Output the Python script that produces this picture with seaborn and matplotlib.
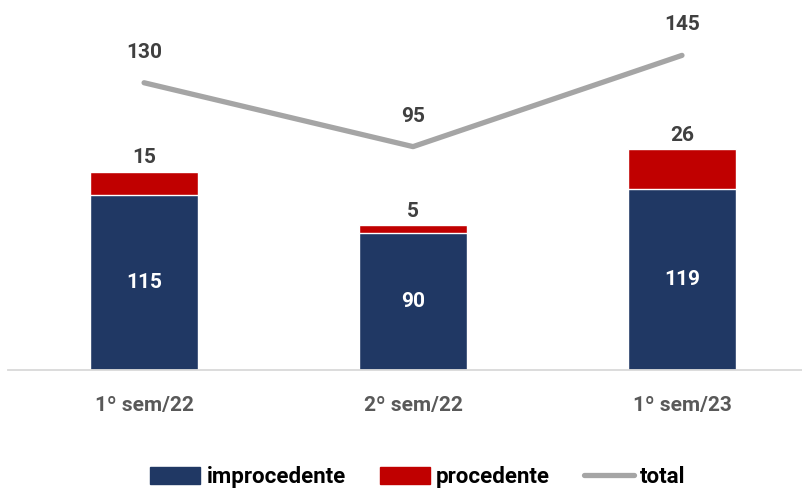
import numpy as np
import matplotlib
matplotlib.use("Agg")
import matplotlib.pyplot as plt
import seaborn as sns
from matplotlib.patches import Patch
from matplotlib.lines import Line2D

periods = ["1º sem/22", "2º sem/22", "1º sem/23"]
improcedente = [115, 90, 119]
procedente = [15, 5, 26]
total = [130, 95, 145]

navy = "#203864"
red = "#c00000"
grey = "#a5a5a5"

sns.set_style("white")
plt.rcParams["font.family"] = ["Roboto", "DejaVu Sans"]
plt.rcParams["font.weight"] = "bold"

fig = plt.figure(figsize=(8.03, 4.91), dpi=100)
ax = fig.add_axes([8 / 803, 1 - 370 / 491, 795 / 803, 350 / 491])

# stacked bars: full height in red, improcedente drawn over it
stack_top = [a + b for a, b in zip(improcedente, procedente)]
sns.barplot(x=periods, y=stack_top, color=red, width=0.4, saturation=1, ax=ax)
sns.barplot(x=periods, y=improcedente, color=navy, width=0.4, saturation=1, ax=ax)

ax.set_ylim(0, 350 / 1.524)
ax.set_xlim(-0.506, 2.45)
ax.set_yticks([])
ax.set_ylabel("")
for s in ["top", "left", "right"]:
    ax.spines[s].set_visible(False)
ax.spines["bottom"].set_color("#d9d9d9")
ax.spines["bottom"].set_linewidth(1.3)
ax.tick_params(axis="x", length=0, pad=19, labelsize=15, labelcolor="#595959")
for lbl in ax.get_xticklabels():
    lbl.set_fontweight("bold")

for i in range(len(periods)):
    ax.text(i, improcedente[i] / 2, str(improcedente[i]), ha="center", va="center",
            color="white", fontsize=15, fontweight="bold")
    ax.annotate(str(procedente[i]), (i, stack_top[i]), xytext=(0, 10),
                textcoords="offset points", ha="center", va="center",
                color="#404040", fontsize=15, fontweight="bold")

# total line on its own scale
ax2 = ax.twinx()
sns.lineplot(x=list(range(len(periods))), y=total, color=grey, linewidth=3.8,
             solid_capstyle="round", ax=ax2)
ax2.set_ylim(-50 / 1.825, 300 / 1.825)
ax2.set_xlim(ax.get_xlim())
ax2.axis("off")
for i, v in enumerate(total):
    ax2.annotate(str(v), (i, v), xytext=(0, 22), textcoords="offset points",
                 ha="center", va="center", color="#404040", fontsize=15,
                 fontweight="bold")

handles = [Patch(color=navy), Patch(color=red),
           Line2D([0], [0], color=grey, linewidth=3.8, solid_capstyle="round")]
leg = fig.legend(handles, ["improcedente", "procedente", "total"], loc="center",
                 bbox_to_anchor=(418 / 803, 1 - 477 / 491), ncol=3, frameon=False,
                 fontsize=16, handlelength=2.25, handleheight=0.8, handletextpad=0.3,
                 columnspacing=1.5, borderpad=0.1)
for t in leg.get_texts():
    t.set_fontweight("bold")
    t.set_color("black")

fig.savefig("out.png", dpi=100)
